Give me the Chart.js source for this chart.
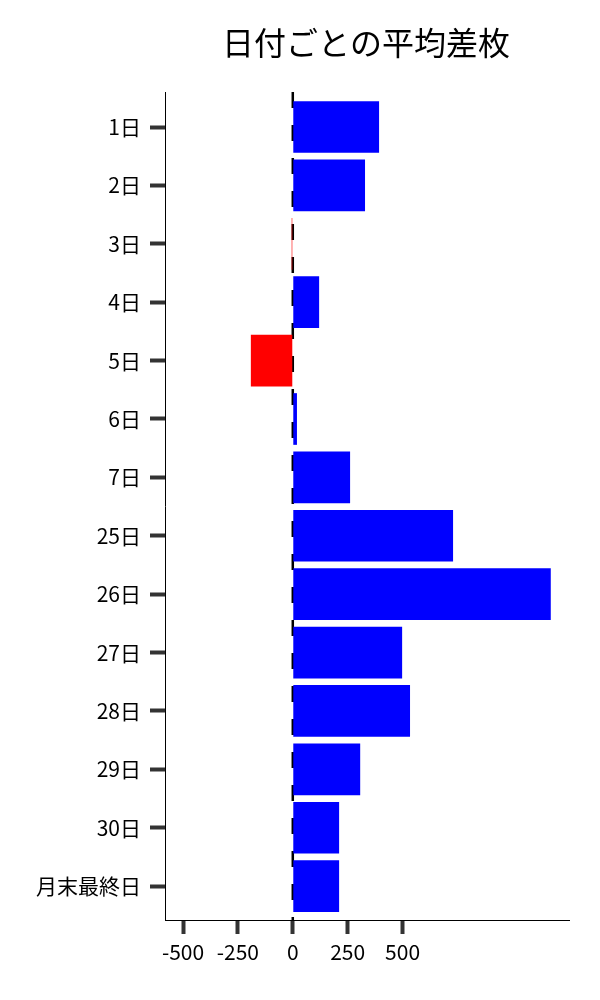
<!DOCTYPE html>
<html>
<head>
<meta charset="utf-8">
<script src="https://cdn.jsdelivr.net/npm/chart.js@4/dist/chart.umd.min.js"></script>
<style>
  html, body { margin: 0; padding: 0; background: #fff; }
  #wrap { width: 600px; height: 1000px; position: relative; }
</style>
</head>
<body>
<div id="wrap"><canvas id="chart"></canvas></div>
<script>
// Data
const titleText = '日付ごとの平均差枚';
const days = ['1日', '2日', '3日', '4日', '5日', '6日', '7日', '25日', '26日', '27日', '28日', '29日', '30日', '月末最終日'];
const avgDiff = [393, 329, -5, 120, -191, 19, 261, 730, 1175, 498, 534, 307, 211, 211];
const xTicks = [-500, -250, 0, 250, 500];

const FONT = '"Noto Sans CJK JP", "Noto Sans", sans-serif';

// Title centred over the plot area and dashed zero line
const extras = {
    id: 'extras',
    beforeDatasetsDraw(chart) {
        const { ctx, chartArea, scales } = chart;
        const x0 = scales.x.getPixelForValue(0);
        ctx.save();
        ctx.strokeStyle = '#000';
        ctx.lineWidth = 2.5;
        ctx.setLineDash([16, 17]);
        ctx.beginPath();
        ctx.moveTo(x0, chartArea.top);
        ctx.lineTo(x0, chartArea.bottom);
        ctx.stroke();
        ctx.restore();
    },
    afterDraw(chart) {
        const { ctx, chartArea } = chart;
        ctx.save();
        ctx.fillStyle = '#000';
        ctx.font = '32px ' + FONT;
        ctx.textAlign = 'center';
        ctx.textBaseline = 'middle';
        ctx.fillText(titleText, (chartArea.left + chartArea.right) / 2 - 1, 43);
        ctx.restore();
    }
};

new Chart(document.getElementById('chart'), {
    type: 'bar',
    data: {
        datasets: [{
            data: avgDiff.map((v, i) => ({ x: v, y: i })),
            backgroundColor: avgDiff.map(v => v < 0 ? '#ff0000' : '#0000ff'),
            borderWidth: 0,
            barPercentage: 0.885,
            categoryPercentage: 1
        }]
    },
    options: {
        indexAxis: 'y',
        responsive: true,
        maintainAspectRatio: false,
        animation: false,
        layout: { padding: { top: 92, right: 31, bottom: 0, left: 0 } },
        plugins: {
            legend: { display: false },
            title: { display: false },
            tooltip: { enabled: false }
        },
        scales: {
            x: {
                type: 'linear',
                min: -582,
                max: 1258,
                afterBuildTicks: s => { s.ticks = xTicks.map(v => ({ value: v })); },
                afterFit: s => { s.height = 80; },
                grid: { drawOnChartArea: false, tickLength: 14, tickWidth: 4, tickColor: '#333' },
                border: { display: true, color: '#000', width: 1 },
                ticks: { color: '#000', font: { family: FONT, size: 21 }, padding: 5 }
            },
            y: {
                type: 'linear',
                reverse: true,
                offset: false,
                min: -0.6,
                max: 13.58,
                afterBuildTicks: s => { s.ticks = days.map((d, i) => ({ value: i })); },
                afterFit: s => { s.width = 165; },
                grid: { offset: false, drawOnChartArea: false, tickLength: 15, tickWidth: 4, tickColor: '#333' },
                border: { display: true, color: '#000', width: 1 },
                ticks: {
                    color: '#000',
                    font: { family: FONT, size: 21 },
                    padding: 9,
                    callback: v => days[v]
                }
            }
        }
    },
    plugins: [extras]
});
</script>
</body>
</html>
